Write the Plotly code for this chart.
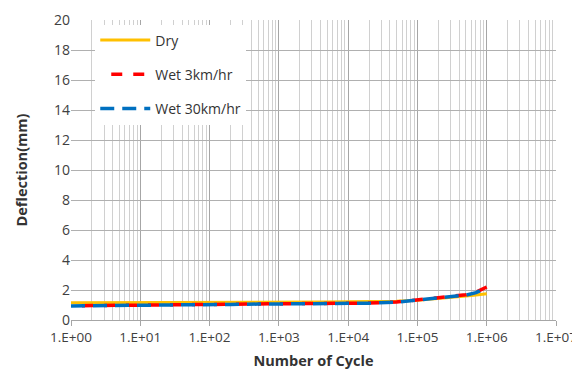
import plotly.graph_objects as go

cycles = [1, 2, 5, 10, 20, 50, 100, 200, 500, 1000, 2000, 5000, 10000, 20000, 50000,
          100000, 200000, 300000, 500000, 700000, 1000000]
dry = [1.15, 1.15, 1.16, 1.16, 1.17, 1.17, 1.18, 1.18, 1.19, 1.19, 1.20, 1.20, 1.21,
       1.22, 1.25, 1.32, 1.42, 1.50, 1.60, 1.67, 1.75]
wet3 = [0.95, 0.97, 0.99, 1.00, 1.02, 1.03, 1.04, 1.05, 1.07, 1.08, 1.09, 1.10, 1.11,
        1.13, 1.20, 1.33, 1.45, 1.53, 1.68, 1.85, 2.20]
wet30 = [0.94, 0.96, 0.98, 0.99, 1.01, 1.02, 1.03, 1.04, 1.06, 1.07, 1.08, 1.09, 1.10,
         1.12, 1.19, 1.32, 1.44, 1.52, 1.66, 1.82, 2.15]
xtick_vals = [1, 10, 100, 1000, 10000, 100000, 1000000, 10000000]
xtick_text = ["1.E+00", "1.E+01", "1.E+02", "1.E+03", "1.E+04", "1.E+05", "1.E+06", "1.E+07"]
ytick_vals = [0, 2, 4, 6, 8, 10, 12, 14, 16, 18, 20]
minor_vals = [m * 10 ** k for k in range(7) for m in range(2, 10)]

fig = go.Figure()
fig.add_trace(go.Scatter(x=cycles, y=dry, mode="lines", name="Dry",
                         line=dict(color="#FFC000", width=3), legendgroup="a"))
fig.add_trace(go.Scatter(x=cycles, y=wet3, mode="lines", name="Wet 3km/hr",
                         line=dict(color="#FF0000", width=3.5, dash="0px,11px,11px,0px"), legendgroup="b"))
fig.add_trace(go.Scatter(x=cycles, y=wet30, mode="lines", name="Wet 30km/hr",
                         line=dict(color="#0070C0", width=3.5, dash="14px,8px"), legendgroup="c"))

font = "Open Sans"
fig.update_layout(
    width=572, height=365,
    margin=dict(l=63, r=24, t=12, b=53),
    paper_bgcolor="white", plot_bgcolor="white",
    font=dict(family=font, size=14, color="#404040"),
    showlegend=True,
    legend=dict(x=0.05, y=0.985, xanchor="left", yanchor="top", bgcolor="white",
                font=dict(size=14, color="#333333"), tracegroupgap=13, itemwidth=50),
    xaxis=dict(type="log", range=[0, 7], tickvals=xtick_vals, ticktext=xtick_text,
               showgrid=True, gridcolor="#A6A6A6", gridwidth=1, automargin=False,
               minor=dict(tickvals=minor_vals, showgrid=True, gridcolor="#D0D0D0", gridwidth=1,
                          ticks=""),
               showline=True, linecolor="#A6A6A6", ticks="outside", ticklen=5,
               tickcolor="#A6A6A6", zeroline=False,
               title=dict(text="<b>Number of Cycle</b>", font=dict(size=14.5, color="#333333"), standoff=10),
               tickfont=dict(size=13.5, color="#404040")),
    yaxis=dict(range=[0, 20], tickvals=ytick_vals, showgrid=True, gridcolor="#B0B0B0",
               showline=False, zeroline=False, ticks="", automargin=False,
               title=dict(text="<b>Deflection(mm)</b>", font=dict(size=14.5, color="#333333"), standoff=22),
               tickfont=dict(size=14, color="#404040")),
)
fig.write_html("out.html")
